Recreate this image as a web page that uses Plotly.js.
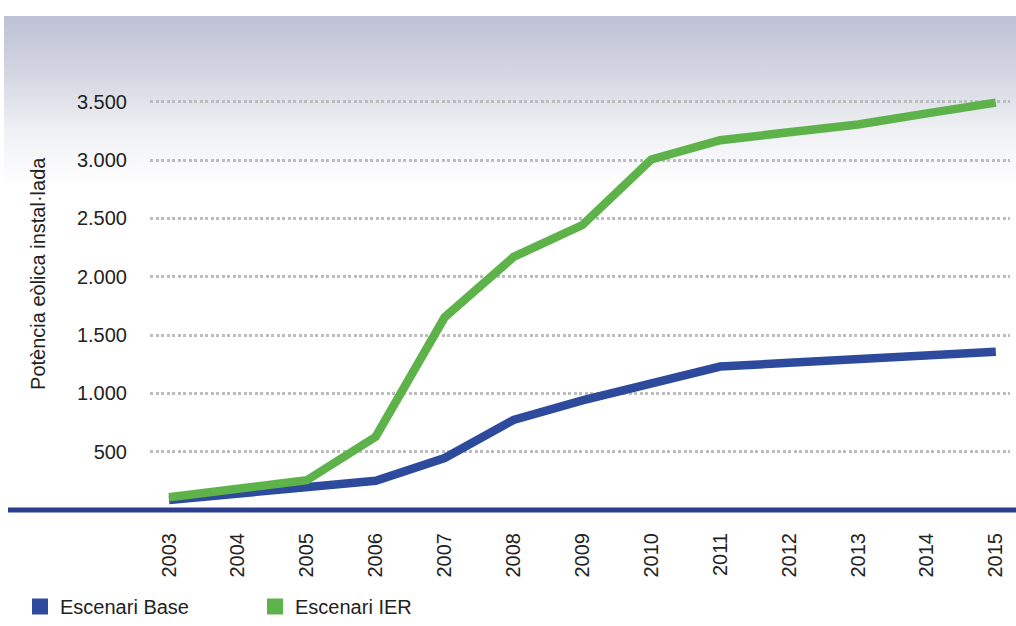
<!DOCTYPE html>
<html>
<head>
<meta charset="utf-8">
<script src="https://cdn.plot.ly/plotly-3.0.1.min.js"></script>
<style>
  html, body { margin: 0; padding: 0; background: #ffffff; }
  #wrap { position: relative; width: 1016px; height: 626px; overflow: hidden; background: #ffffff; }
  #bg { position: absolute; left: 4px; top: 16px; width: 1012px; height: 170px;
        background: linear-gradient(to bottom, #bec1d4 0%, #d4d6e2 35%, #eeeff3 65%, #ffffff 100%); }
  #chart { position: absolute; left: 0; top: 0; width: 1016px; height: 626px; }
</style>
</head>
<body>
<div id="wrap">
  <div id="bg"></div>
  <div id="chart"></div>
</div>
<script>
// ---- data ----
const years = [2003, 2004, 2005, 2006, 2007, 2008, 2009, 2010, 2011, 2012, 2013, 2014, 2015];
const escenariBase = [86, 140, 205, 251, 445, 772, 940, 1080, 1230, 1262, 1292, 1320, 1357];
const escenariIER = [110, 185, 255, 628, 1652, 2169, 2443, 3005, 3170, 3238, 3305, 3400, 3492];
const xTickText = ['2003','2004','2005','2006','2007','2008','2009','2010','2011','2012','2013','2014','2015'];
const yTickVals = [500, 1000, 1500, 2000, 2500, 3000, 3500];
const yTickText = ['500', '1.000', '1.500', '2.000', '2.500', '3.000', '3.500'];
const seriesNames = ['Escenari Base', 'Escenari IER'];
const yTitle = 'Potència eòlica instal·lada';

const blue = '#2e4a9c';
const green = '#5eb24a';
const font = 'Liberation Sans, Arial, Helvetica, sans-serif';

const traces = [
  { x: years, y: escenariBase, type: 'scatter', mode: 'lines', name: seriesNames[0],
    line: { color: blue, width: 8.5 }, showlegend: false, hoverinfo: 'x+y' },
  { x: years, y: escenariIER, type: 'scatter', mode: 'lines', name: seriesNames[1],
    line: { color: green, width: 8.5 }, showlegend: false, hoverinfo: 'x+y' },
  { x: [null], y: [null], type: 'scatter', mode: 'markers', name: seriesNames[0],
    marker: { color: blue, symbol: 'square', size: 16 }, showlegend: true },
  { x: [null], y: [null], type: 'scatter', mode: 'markers', name: seriesNames[1],
    marker: { color: green, symbol: 'square', size: 16 }, showlegend: true }
];

const layout = {
  width: 1016, height: 626,
  margin: { l: 150, r: 6, t: 80, b: 116 },
  paper_bgcolor: 'rgba(0,0,0,0)',
  plot_bgcolor: 'rgba(0,0,0,0)',
  separators: ',.',
  font: { family: font, size: 20, color: '#222222' },
  xaxis: {
    type: 'linear',
    range: [2002.724, 2015.206],
    tickvals: years, ticktext: xTickText,
    tickangle: -90,
    ticks: '', showgrid: false, zeroline: false, showline: false,
    ticklabelstandoff: 18,
    tickfont: { family: font, size: 20, color: '#222222' },
    fixedrange: true
  },
  yaxis: {
    range: [0, 3686],
    tickvals: yTickVals, ticktext: yTickText,
    ticks: '', showline: false, zeroline: false,
    showgrid: true, gridcolor: '#bdbdbd', gridwidth: 3, griddash: '3px,2.5px',
    ticklabelstandoff: 22,
    tickfont: { family: font, size: 20, color: '#222222' },
    fixedrange: true
  },
  annotations: [
    { text: yTitle, xref: 'paper', yref: 'paper', x: -0.1302, y: 0.549,
      xanchor: 'center', yanchor: 'middle', textangle: -90, showarrow: false,
      font: { family: font, size: 20, color: '#222222' } }
  ],
  showlegend: true,
  legend: {
    orientation: 'h',
    xref: 'container', yref: 'container',
    x: 0.0197, xanchor: 'left',
    y: -0.014, yanchor: 'bottom',
    entrywidth: 190, entrywidthmode: 'pixels',
    font: { family: font, size: 20, color: '#222222' },
    bgcolor: 'rgba(0,0,0,0)',
    itemclick: false, itemdoubleclick: false
  },
  shapes: [
    { type: 'line', xref: 'paper', yref: 'paper', x0: -0.1651, x1: 1.008, y0: 0, y1: 0,
      line: { color: '#2a3d8f', width: 5 }, layer: 'above' }
  ]
};

Plotly.newPlot('chart', traces, layout, { displayModeBar: false, staticPlot: true });
</script>
</body>
</html>
